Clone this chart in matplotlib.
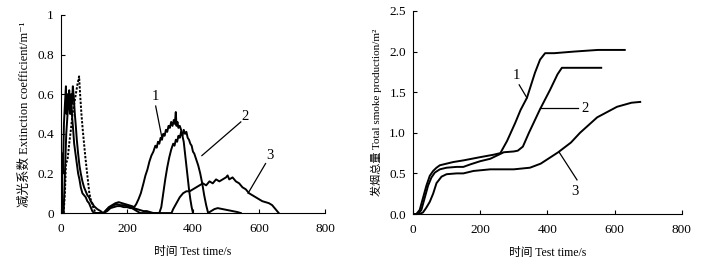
import matplotlib
matplotlib.use("Agg")
import matplotlib.pyplot as plt

plt.rcParams['font.family'] = ['Liberation Serif', 'Noto Sans CJK SC', 'DejaVu Serif']

# ---- left panel: extinction coefficient (m^-1) vs time (s) ----
t1 = [0, 3, 4, 6, 9, 12, 15, 17, 19, 22, 25, 28, 31, 34, 37, 40, 44, 48, 52, 56,
      60, 65, 70, 75, 80, 85, 90, 95, 100, 130, 135, 145, 155, 165, 175, 185, 195,
      205, 215, 222, 228, 235, 242, 250, 256, 262, 268, 274, 280, 286, 290, 294,
      298, 302, 306, 310, 314, 318, 322, 326, 330, 334, 338, 342, 345, 348, 350,
      353, 356, 360, 364, 368, 372, 376, 380, 384, 388, 392, 396, 400]
e1 = [0, 0, 0.30, 0.20, 0.45, 0.55, 0.64, 0.50, 0.60, 0.55, 0.62, 0.50, 0.58, 0.48,
      0.42, 0.35, 0.30, 0.25, 0.20, 0.17, 0.13, 0.10, 0.09, 0.08, 0.06, 0.05, 0.03,
      0.01, 0, 0, 0.01, 0.03, 0.04, 0.05, 0.055, 0.05, 0.045, 0.04, 0.035, 0.03,
      0.045, 0.07, 0.10, 0.15, 0.19, 0.22, 0.26, 0.29, 0.31, 0.34, 0.33, 0.36,
      0.35, 0.38, 0.37, 0.40, 0.39, 0.42, 0.41, 0.44, 0.43, 0.46, 0.44, 0.47,
      0.45, 0.51, 0.44, 0.46, 0.43, 0.44, 0.42, 0.39, 0.36, 0.30, 0.24, 0.18,
      0.12, 0.07, 0.03, 0]

t2 = [0, 8, 10, 13, 16, 20, 24, 27, 30, 33, 36, 39, 42, 45, 48, 52, 56, 60, 65, 70,
      75, 80, 85, 90, 95, 100, 110, 120, 128, 140, 150, 160, 170, 180, 190, 200,
      210, 220, 230, 240, 298, 304, 310, 316, 322, 328, 334, 340, 344, 348, 352,
      356, 360, 364, 368, 372, 376, 380, 384, 388, 392, 396, 400, 404, 410, 416,
      422, 428, 434, 440, 446, 455, 465, 475, 490, 505, 520, 535, 545]
e2 = [0, 0, 0.10, 0.25, 0.40, 0.50, 0.58, 0.52, 0.60, 0.55, 0.64, 0.58, 0.50, 0.44,
      0.37, 0.30, 0.24, 0.20, 0.16, 0.13, 0.11, 0.09, 0.08, 0.06, 0.05, 0.035, 0.02,
      0.01, 0, 0.02, 0.03, 0.04, 0.045, 0.04, 0.04, 0.035, 0.03, 0.02, 0.01, 0, 0,
      0.03, 0.10, 0.17, 0.23, 0.28, 0.32, 0.35, 0.34, 0.37, 0.36, 0.39, 0.38, 0.41,
      0.39, 0.42, 0.40, 0.41, 0.38, 0.37, 0.35, 0.34, 0.31, 0.30, 0.27, 0.24, 0.20,
      0.15, 0.09, 0.04, 0, 0.01, 0.02, 0.025, 0.02, 0.015, 0.01, 0.005, 0]

# early part of curve 3 (drawn dotted)
t3a = [8, 12, 15, 20, 25, 30, 35, 40, 45, 50, 55, 58, 62, 66, 70, 74, 78, 82, 86,
       90, 95, 100, 105]
e3a = [0, 0.10, 0.25, 0.27, 0.35, 0.42, 0.50, 0.55, 0.60, 0.65, 0.69, 0.60, 0.50,
       0.42, 0.35, 0.28, 0.22, 0.16, 0.10, 0.07, 0.04, 0.02, 0]

t3b = [105, 130, 140, 150, 160, 170, 180, 190, 200, 210, 220, 230, 240, 250, 260,
       270, 280, 335, 340, 350, 360, 370, 380, 390, 400, 410, 420, 430, 440, 450,
       460, 470, 480, 490, 500, 505, 510, 520, 530, 540, 550, 560, 570, 580, 590,
       600, 610, 620, 630, 640, 650, 660]
e3b = [0, 0, 0.01, 0.025, 0.03, 0.035, 0.035, 0.03, 0.03, 0.025, 0.025, 0.02, 0.015,
       0.01, 0.01, 0.005, 0, 0, 0.02, 0.05, 0.08, 0.10, 0.11, 0.11, 0.12, 0.13,
       0.14, 0.15, 0.14, 0.16, 0.15, 0.17, 0.16, 0.17, 0.18, 0.19, 0.17, 0.18,
       0.16, 0.15, 0.13, 0.12, 0.10, 0.09, 0.08, 0.07, 0.06, 0.055, 0.05, 0.04,
       0.02, 0]

# ---- right panel: total smoke production (m^2) vs time (s) ----
s1_t = [0, 10, 20, 30, 40, 50, 60, 70, 80, 100, 120, 150, 200, 240, 260, 280, 304,
        320, 339, 363, 378, 393, 420, 480, 550, 630]
s1_v = [0, 0, 0.05, 0.20, 0.35, 0.47, 0.53, 0.57, 0.60, 0.62, 0.64, 0.66, 0.70,
        0.73, 0.75, 0.90, 1.12, 1.28, 1.43, 1.74, 1.90, 1.98, 1.98, 2.00, 2.02, 2.02]

s2_t = [0, 15, 25, 35, 45, 55, 65, 80, 100, 130, 150, 170, 200, 230, 250, 270, 300,
        312, 327, 345, 378, 408, 430, 443, 480, 560]
s2_v = [0, 0, 0.05, 0.20, 0.35, 0.45, 0.51, 0.55, 0.57, 0.58, 0.58, 0.61, 0.65,
        0.68, 0.72, 0.76, 0.77, 0.78, 0.83, 1.00, 1.29, 1.53, 1.72, 1.80, 1.80, 1.80]

s3_t = [0, 20, 30, 40, 50, 60, 70, 85, 100, 130, 150, 180, 230, 300, 348, 380, 432,
        470, 497, 548, 607, 650, 676]
s3_v = [0, 0, 0.02, 0.08, 0.15, 0.25, 0.38, 0.46, 0.49, 0.50, 0.50, 0.53, 0.55,
        0.55, 0.57, 0.62, 0.76, 0.88, 1.00, 1.19, 1.32, 1.37, 1.38]

lw = 1.4
fig = plt.figure(figsize=(7.04, 2.67), dpi=100)
ax1 = fig.add_axes([0.0866, 0.202, 0.375, 0.742])
ax2 = fig.add_axes([0.5866, 0.1985, 0.382, 0.7605])

ax1.plot(t1, e1, color='black', lw=lw)
ax1.plot(t2, e2, color='black', lw=lw)
ax1.plot(t3a, e3a, color='black', lw=lw, linestyle=(0, (1.2, 0.8)))
ax1.plot(t3b, e3b, color='black', lw=lw)
ax1.set_xlim(0, 800)
ax1.set_ylim(0, 1)
ax1.set_xticks([0, 200, 400, 600, 800])
ax1.set_yticks([0, 0.2, 0.4, 0.6, 0.8, 1])
ax1.set_yticklabels(['0', '0.2', '0.4', '0.6', '0.8', '1'])
ax1.set_xlabel('时间 Test time/s', fontsize=8.5)
ax1.set_ylabel('减光系数 Extinction coefficient/m⁻¹', fontsize=9)

ax2.plot(s1_t, s1_v, color='black', lw=lw)
ax2.plot(s2_t, s2_v, color='black', lw=lw)
ax2.plot(s3_t, s3_v, color='black', lw=lw)
ax2.set_xlim(0, 800)
ax2.set_ylim(0, 2.5)
ax2.set_xticks([0, 200, 400, 600, 800])
ax2.set_yticks([0, 0.5, 1.0, 1.5, 2.0, 2.5])
ax2.set_yticklabels(['0.0', '0.5', '1.0', '1.5', '2.0', '2.5'])
ax2.set_xlabel('时间 Test time/s', fontsize=8.5)
ax2.set_ylabel('发烟总量 Total smoke production/m²', fontsize=8)

for ax in (ax1, ax2):
    ax.spines['top'].set_visible(False)
    ax.spines['right'].set_visible(False)
    ax.tick_params(direction='in', length=3, labelsize=9.5, width=0.8)
    ax.tick_params(axis='x', pad=7)
    ax.tick_params(axis='y', pad=5)
    ax.xaxis.labelpad = 8
    ax.yaxis.labelpad = 5

# curve labels with leader lines
def tag(ax, txt, text_xy, start, end):
    ax.text(*text_xy, txt, fontsize=10.5, ha='center', va='center')
    ax.plot([start[0], end[0]], [start[1], end[1]], color='black', lw=0.9)

tag(ax1, '1', (285, 0.59), (287, 0.54), (306, 0.38))
tag(ax1, '2', (558, 0.485), (545, 0.46), (427, 0.29))
tag(ax1, '3', (633, 0.29), (620, 0.25), (567, 0.10))

tag(ax2, '1', (307, 1.71), (316, 1.59), (339, 1.43))
tag(ax2, '2', (512, 1.30), (490, 1.30), (378, 1.30))
tag(ax2, '3', (482, 0.28), (488, 0.42), (435, 0.76))

fig.savefig('out.png', dpi=100)
